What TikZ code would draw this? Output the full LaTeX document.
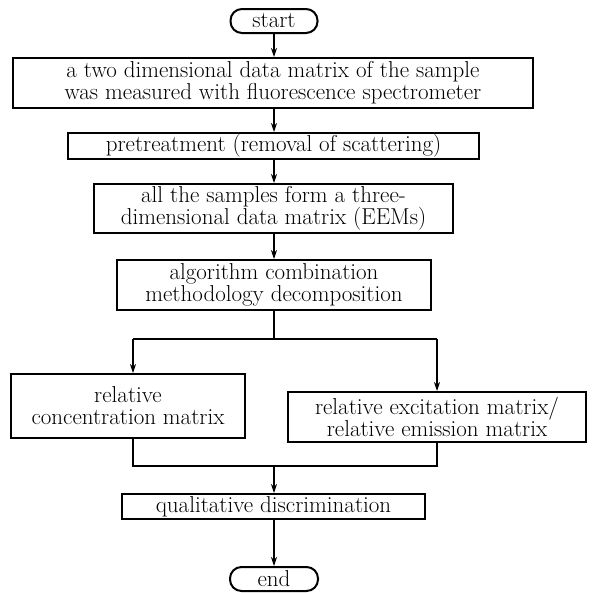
\documentclass[tikz,border=0pt]{standalone}
\usetikzlibrary{arrows.meta}
\begin{document}
\begin{tikzpicture}[x=1pt,y=-1pt,
  box/.style={draw, line width=2pt, inner sep=0pt, align=center, font=\fontsize{23}{22}\selectfont},
  term/.style={box, rounded corners=11.5pt},
  conn/.style={line width=1.1pt},
  arr/.style={conn, -{Stealth[length=9pt,width=6pt]}}]
\useasboundingbox (0,0) rectangle (597,592);
\node[term, minimum width=87pt, minimum height=24pt] (start) at (274,21) {start};
\node[box, minimum width=520pt, minimum height=50pt] (b1) at (273,83) {a two dimensional data matrix of the sample\\was measured with fluorescence spectrometer};
\node[box, minimum width=411pt, minimum height=26pt] (b2) at (273.5,146) {pretreatment (removal of scattering)};
\node[box, minimum width=359pt, minimum height=49pt] (b3) at (273.5,208.5) {all the samples form a three-\\dimensional data matrix (EEMs)};
\node[box, minimum width=314pt, minimum height=50pt] (b4) at (274,285) {algorithm combination\\methodology decomposition};
\node[box, minimum width=234pt, minimum height=64pt] (L) at (128,406) {relative\\concentration matrix};
\node[box, minimum width=298pt, minimum height=50pt] (R) at (437,417) {relative excitation matrix/\\relative emission matrix};
\node[box, minimum width=303pt, minimum height=25pt] (F) at (273.5,506.5) {qualitative discrimination};
\node[term, minimum width=88pt, minimum height=24pt] (end) at (274,579) {end};
\coordinate (sp) at (274,339);
\coordinate (lt) at (133,339);
\coordinate (rt) at (437,339);
\coordinate (lj) at (133,466);
\coordinate (rj) at (437,466);
\coordinate (mj) at (274,466);
\draw[arr] (start.south) -- (start.south |- b1.north);
\draw[arr] (start.south |- b1.south) -- (start.south |- b2.north);
\draw[arr] (start.south |- b2.south) -- (start.south |- b3.north);
\draw[arr] (start.south |- b3.south) -- (start.south |- b4.north);
\draw[conn] (b4.south) -- (sp);
\draw[conn] (lt) -- (rt);
\draw[arr] (lt) -- (lt |- L.north);
\draw[arr] (rt) -- (rt |- R.north);
\draw[conn] (lt |- L.south) -- (lj) -- (rj) -- (rt |- R.south);
\draw[arr] (mj) -- (mj |- F.north);
\draw[arr] (mj |- F.south) -- (mj |- end.north);
\end{tikzpicture}
\end{document}
